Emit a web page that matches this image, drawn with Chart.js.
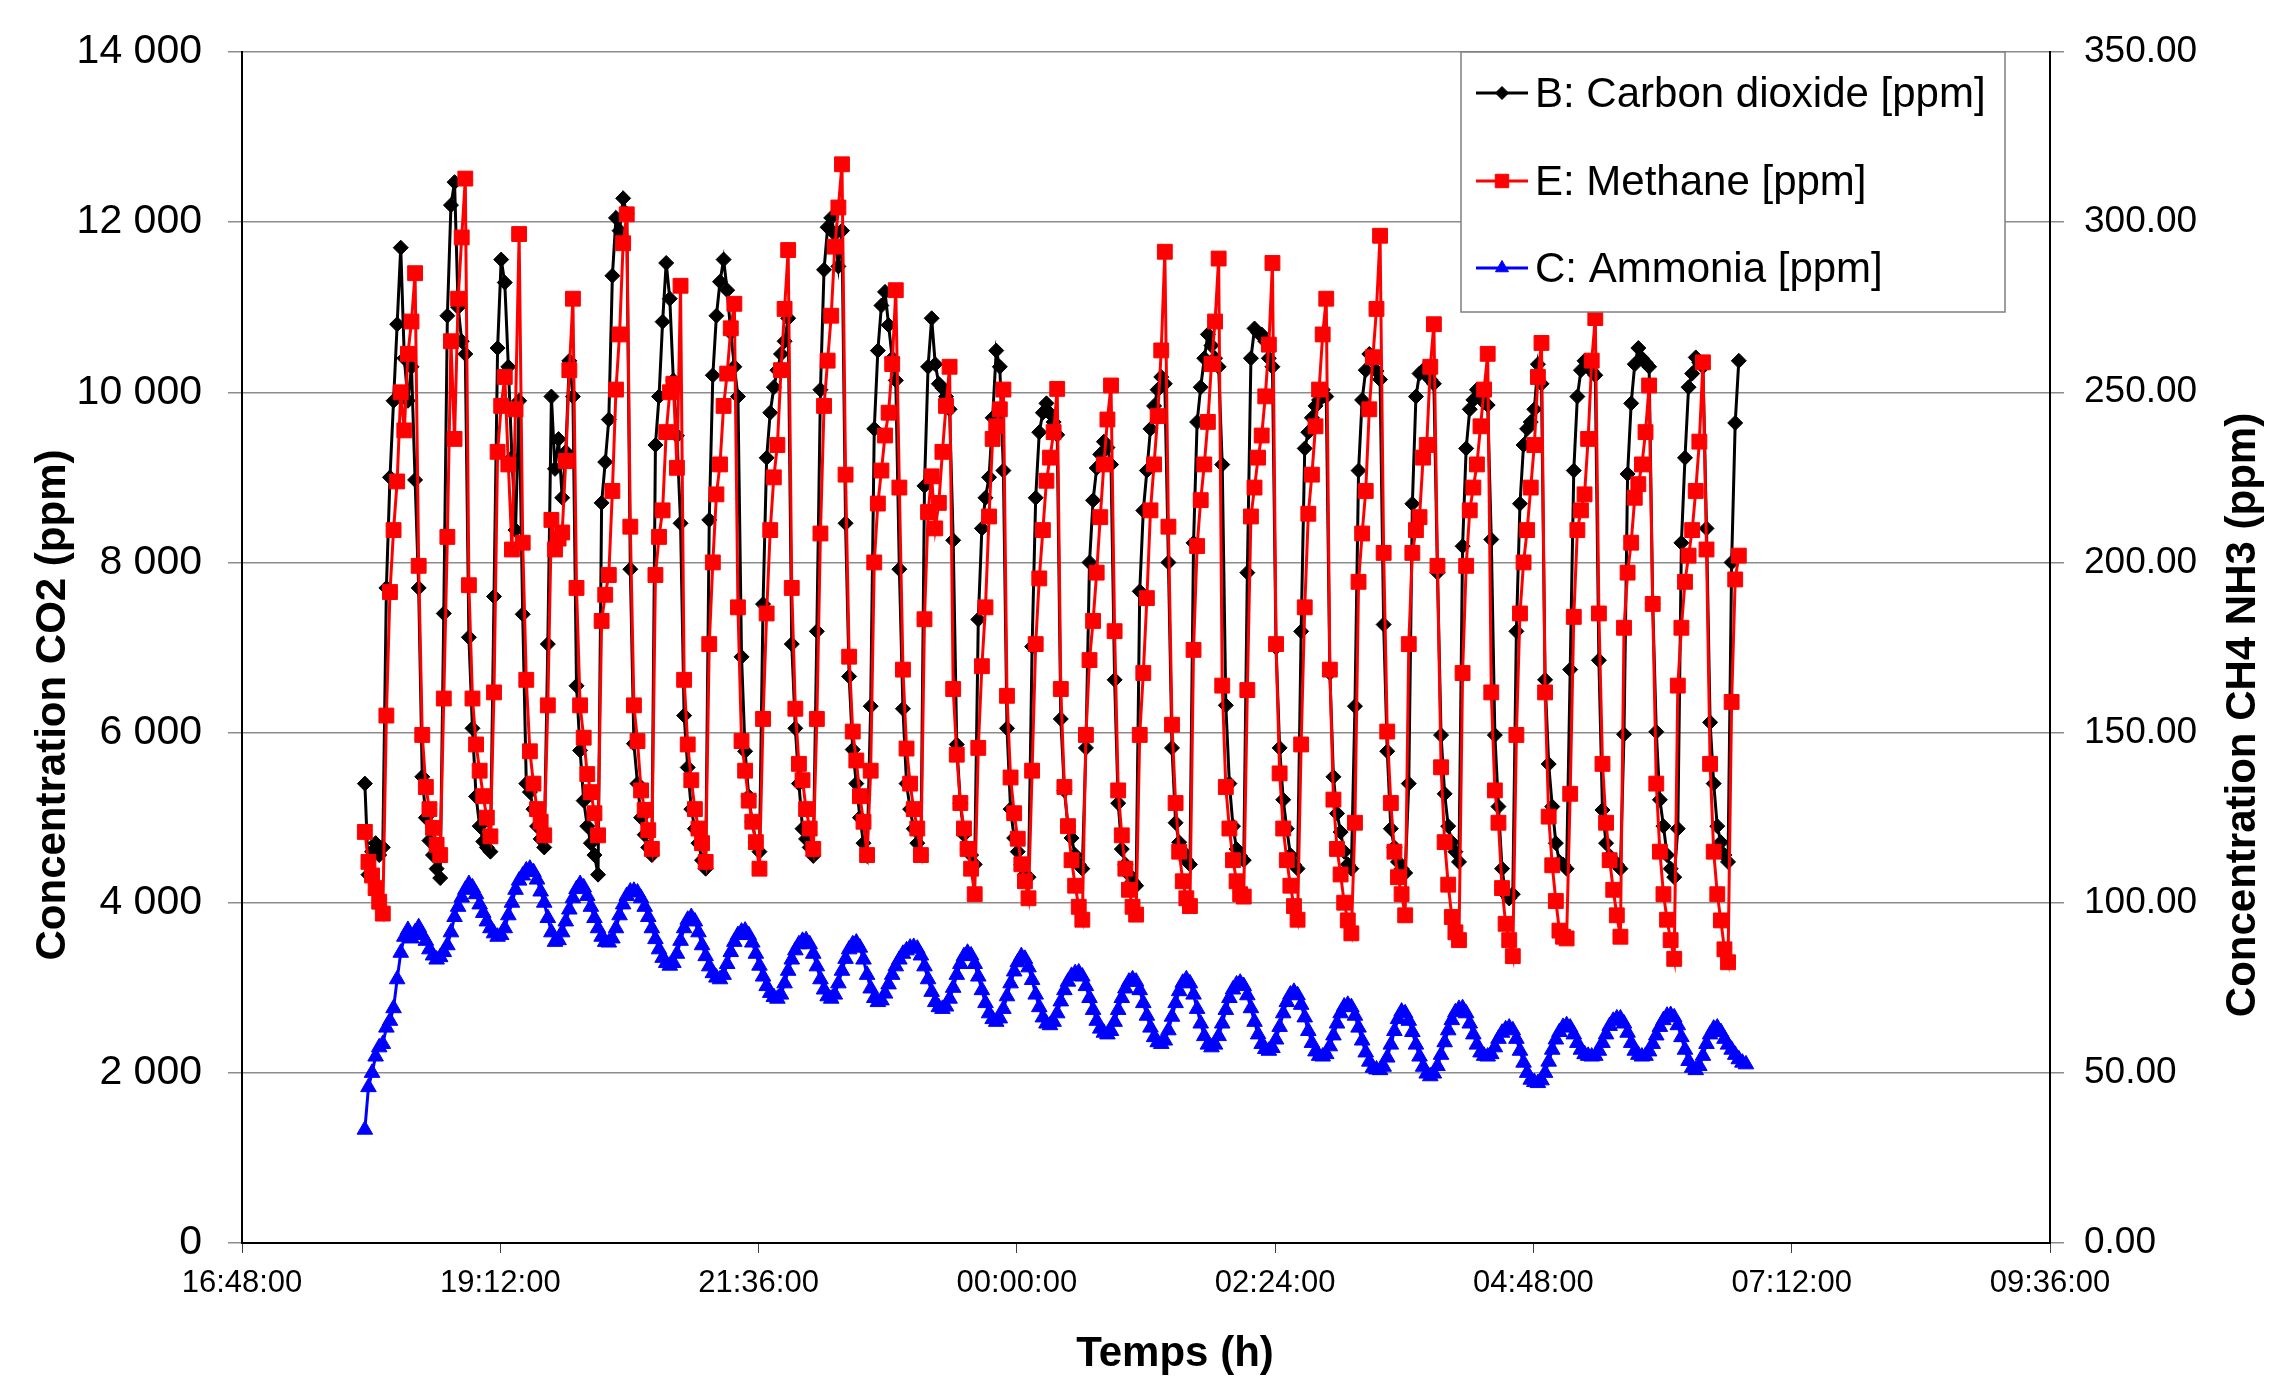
<!DOCTYPE html>
<html>
<head>
<meta charset="utf-8">
<script src="https://cdn.jsdelivr.net/npm/chart.js@4.4.1/dist/chart.umd.min.js"></script>
<style>
  body { margin: 0; background: #fff; }
  canvas { display: block; }
</style>
</head>
<body>
<canvas id="chart" width="2269" height="1377"></canvas>
<script>
// samples every 2 min, first one at 17:56:30 (minutes from midnight of day 1)
const firstSample = 1076.5;
const sampleStep = 2;

const seriesLabels = ['B: Carbon dioxide [ppm]', 'E: Methane [ppm]', 'C: Ammonia [ppm]'];

const xTickLabels = ['16:48:00', '19:12:00', '21:36:00', '00:00:00', '02:24:00', '04:48:00', '07:12:00', '09:36:00'];
const leftTickLabels = ['0', '2 000', '4 000', '6 000', '8 000', '10 000', '12 000', '14 000'];
const rightTickLabels = ['0.00', '50.00', '100.00', '150.00', '200.00', '250.00', '300.00', '350.00'];

// CO2 (left axis, ppm) - one line per cycle, ends on the methane peak
const co2 = [
  5400, 4330, 4600, 4700, 4560, 4650, 7700, 9000, 9900, 10800, 11700, 10400, 9900, 10300, 8970,
  7700, 5480, 5000, 4730, 4560, 4400, 4290, 7400, 10900, 12200, 12470, 11000, 10600, 10450,
  7120, 6050, 5250, 4900, 4720, 4650, 4600, 7600, 10520, 11560, 11290, 10300, 9230, 8380, 9900,
  7390, 5400, 5300, 5100, 4900, 4750, 4650, 7040, 9950, 9100, 9450, 8760, 9300, 10370, 9950,
  6550, 5790, 5200, 4900, 4700, 4560, 4330, 8700, 9180, 9680, 11370, 12050, 11900, 12280, 12100,
  7920, 5870, 5400, 5000, 4800, 4650, 4560, 9380, 9950, 10830, 11520, 11100, 10140, 9490, 8460,
  6200, 5590, 5100, 4870, 4700, 4500, 4400, 8500, 10200, 10900, 11300, 11560, 11200, 10700, 10300,
  9950, 6890, 5780, 5250, 4950, 4710, 4600, 7510, 9230, 9760, 10060, 10260, 10450, 10600, 10870,
  7040, 6050, 5400, 4870, 4750, 4650, 4550, 7190, 10030, 11440, 11940, 12050, 11860, 11480, 11900,
  8460, 6660, 5800, 5400, 5000, 4700, 4550, 6310, 9570, 10490, 11020, 11180, 10790, 10400, 10140,
  7920, 6280, 5400, 5100, 4870, 4700, 4560, 8900, 10300, 10870, 10330, 10100, 10050, 9950, 9800,
  8260, 5860, 5170, 4800, 4630, 4560, 4450, 7330, 8400, 8760, 9000, 9700, 10490, 10300, 9080,
  6050, 5100, 4760, 4600, 4450, 4330, 4300, 7010, 8760, 9530, 9760, 9870, 9750, 9650, 9500,
  6160, 5320, 4900, 4760, 4560, 4450, 4400, 5820, 8000, 8730, 9110, 9270, 9420, 9350, 9150,
  6620, 5170, 4630, 4450, 4330, 4250, 4200, 7660, 8610, 9080, 9570, 9840, 10030, 10180, 10100,
  8000, 5820, 4940, 4710, 4600, 4500, 4450, 8230, 9650, 10060, 10400, 10680, 10550, 10400, 10300,
  9150, 6320, 5400, 4900, 4630, 4550, 4500, 7880, 10400, 10750, 10700, 10680, 10600, 10400, 10300,
  7000, 5820, 5210, 4870, 4560, 4450, 4400, 7190, 9340, 9530, 9700, 9840, 9910, 10030, 9950,
  6700, 5480, 5050, 4830, 4600, 4450, 4400, 6310, 9080, 9910, 10260, 10450, 10370, 10250, 10150,
  7270, 5780, 4870, 4650, 4480, 4400, 4350, 5400, 8690, 9950, 10220, 10260, 10200, 10150, 10100,
  7880, 5970, 5280, 4900, 4710, 4600, 4480, 8190, 9340, 9800, 9910, 10030, 9950, 9880, 9850,
  8270, 5970, 5130, 4400, 4100, 4050, 4100, 7190, 8690, 9380, 9570, 9650, 9800, 10330, 10100,
  6620, 5630, 5130, 4700, 4480, 4450, 4400, 6740, 9080, 9950, 10260, 10370, 10300, 10250, 10200,
  6850, 5090, 4700, 4550, 4500, 4450, 4400, 5980, 9040, 9870, 10330, 10520, 10400, 10350, 10300,
  7510, 6010, 5210, 4900, 4560, 4400, 4300, 4870, 8230, 9230, 10060, 10220, 10410, 10350, 10300,
  8400, 6120, 5400, 4900, 4710, 4560, 4480, 8000, 9640, 10370
];

// CH4 (right axis, ppm)
const ch4 = [
  120.8, 112.0, 108.0, 104.3, 100.3, 96.8, 155.0, 191.3, 209.5, 223.8, 250.0, 238.8, 261.3, 270.8, 285.0,
  199.0, 149.3, 134.0, 127.5, 122.0, 117.0, 114.0, 160.0, 207.5, 265.0, 236.3, 277.5, 295.5, 312.8,
  193.3, 160.0, 146.5, 138.8, 131.3, 125.0, 119.5, 161.8, 232.5, 246.0, 254.5, 228.8, 203.8, 245.0, 296.5,
  205.8, 165.5, 144.5, 135.0, 127.5, 123.8, 119.8, 158.0, 212.5, 203.8, 207.0, 208.8, 229.8, 256.5, 277.5,
  192.5, 158.0, 148.5, 137.8, 132.5, 126.3, 119.8, 182.8, 190.5, 196.3, 221.0, 250.8, 267.0, 293.8, 302.3,
  210.5, 158.0, 147.5, 133.0, 127.3, 121.3, 115.8, 196.3, 207.5, 215.3, 238.3, 250.0, 252.5, 227.8, 281.3,
  165.5, 146.5, 136.0, 127.5, 121.8, 117.5, 112.0, 176.0, 200.0, 220.0, 228.8, 246.0, 255.5, 268.8, 276.0,
  186.8, 147.5, 138.8, 130.0, 123.8, 117.8, 110.0, 154.0, 185.0, 209.5, 225.0, 234.5, 256.5, 274.5, 291.8,
  192.5, 157.0, 140.8, 136.0, 127.5, 121.8, 115.8, 154.0, 208.5, 246.0, 259.3, 272.5, 292.8, 304.3, 317.0,
  225.8, 172.3, 150.3, 141.8, 131.3, 123.8, 114.0, 138.8, 200.0, 217.3, 227.0, 237.3, 244.0, 258.3, 280.0,
  222.0, 168.5, 145.3, 135.0, 127.5, 121.8, 114.0, 183.3, 214.8, 225.3, 210.0, 217.5, 232.5, 246.0, 257.5,
  162.8, 143.5, 129.3, 121.8, 115.8, 110.0, 102.5, 145.5, 169.5, 186.8, 213.5, 236.3, 240.0, 245.0, 250.8,
  160.8, 136.8, 126.3, 118.8, 111.3, 106.3, 101.3, 138.8, 176.0, 195.3, 209.5, 224.0, 230.8, 238.3, 251.0,
  162.8, 134.0, 122.5, 112.5, 105.0, 98.8, 95.0, 149.3, 171.3, 182.8, 197.0, 213.3, 228.8, 242.0, 252.0,
  179.8, 133.0, 119.8, 110.0, 103.8, 98.8, 96.5, 149.3, 167.5, 189.5, 215.3, 228.8, 243.0, 262.3, 291.3,
  210.5, 152.3, 129.3, 115.0, 106.3, 101.3, 99.0, 174.3, 204.8, 218.3, 228.8, 241.3, 258.3, 270.8, 289.3,
  163.8, 134.0, 121.8, 112.5, 106.3, 102.5, 101.8, 162.5, 213.5, 222.0, 230.8, 237.3, 248.8, 264.0, 288.0,
  176.0, 138.0, 121.8, 112.5, 105.0, 99.0, 95.0, 146.5, 186.8, 214.3, 225.8, 240.0, 250.8, 267.0, 277.5,
  168.5, 130.3, 115.8, 108.3, 100.0, 94.8, 91.0, 123.5, 194.3, 208.5, 221.0, 245.0, 260.3, 274.5, 296.0,
  202.8, 150.3, 129.3, 115.0, 107.5, 102.5, 96.3, 176.0, 202.8, 209.5, 213.3, 230.8, 234.5, 257.5, 270.0,
  199.0, 139.8, 117.8, 105.3, 95.8, 91.3, 89.0, 167.5, 199.0, 215.3, 222.0, 228.8, 240.0, 250.8, 261.3,
  161.8, 133.0, 123.5, 104.3, 93.8, 89.0, 84.3, 149.3, 185.0, 200.0, 209.5, 222.0, 234.5, 254.5, 264.5,
  161.8, 125.3, 111.0, 100.5, 91.8, 90.0, 89.5, 132.0, 184.0, 209.5, 215.3, 220.0, 236.3, 259.3, 271.8,
  185.0, 140.8, 123.5, 112.5, 103.8, 96.3, 90.0, 180.8, 197.0, 205.8, 219.0, 223.0, 228.8, 238.3, 252.0,
  187.8, 135.0, 115.0, 102.5, 95.0, 89.0, 83.5, 163.8, 180.8, 194.3, 202.0, 209.5, 221.0, 235.5, 258.8,
  203.8, 140.8, 115.0, 102.5, 94.8, 86.3, 82.5, 159.0, 195.0, 202.0
];

// NH3 (right axis, ppm)
const nh3 = [
  33.3, 45.8, 50.0, 54.8, 57.5, 58.5, 63.3, 65.3, 69.0, 77.5,
  85.3, 90.0, 92.0, 89.5, 91.3, 92.8, 90.5, 88.8, 86.3, 84.5,
  83.3, 84.0, 85.5, 87.5, 91.3, 95.8, 98.8, 101.5, 103.8, 105.5,
  104.5, 102.5, 99.5, 97.0, 94.5, 92.5, 91.0, 90.0, 90.5, 92.5,
  96.3, 100.0, 103.8, 106.5, 108.0, 109.5, 110.0, 109.0, 106.8, 103.3,
  100.0, 95.5, 91.3, 88.5, 89.0, 91.3, 94.5, 98.0, 101.3, 104.0,
  105.5, 104.5, 102.0, 98.8, 95.5, 92.5, 90.0, 88.5, 88.3, 89.5,
  92.5, 96.3, 99.5, 102.0, 103.3, 103.5, 103.0, 101.3, 98.8, 95.8,
  92.5, 89.3, 86.3, 83.8, 82.3, 81.5, 82.3, 85.0, 88.8, 92.5,
  95.0, 95.8, 94.5, 91.3, 87.5, 84.3, 81.3, 79.3, 78.0, 77.5,
  78.8, 82.0, 85.5, 88.5, 90.5, 91.5, 91.8, 90.5, 88.3, 85.0,
  81.5, 78.3, 75.5, 73.5, 72.3, 71.8, 73.0, 76.3, 80.0, 83.3,
  86.0, 87.8, 88.8, 89.0, 87.8, 85.0, 81.3, 77.5, 74.5, 72.5,
  71.8, 73.0, 76.3, 80.0, 83.5, 86.3, 87.8, 88.3, 86.8, 83.3,
  78.8, 74.8, 72.0, 70.8, 71.3, 73.3, 76.0, 78.8, 81.3, 83.3,
  85.0, 86.0, 86.8, 87.0, 86.5, 84.5, 81.3, 77.5, 73.8, 70.8,
  69.3, 68.8, 69.5, 71.8, 75.0, 78.8, 82.0, 84.3, 85.3, 84.5,
  82.0, 78.3, 74.3, 70.5, 67.5, 65.8, 65.0, 66.0, 68.8, 72.5,
  76.3, 79.8, 82.5, 84.3, 83.5, 81.0, 77.3, 73.0, 69.3, 66.3,
  64.5, 64.0, 65.0, 67.5, 71.0, 74.3, 76.8, 78.5, 79.3, 79.5,
  78.3, 75.5, 72.0, 68.5, 65.3, 63.0, 61.8, 61.3, 62.3, 65.0,
  68.5, 72.0, 74.8, 76.8, 77.5, 76.8, 74.3, 70.5, 66.8, 63.3,
  60.5, 59.0, 58.5, 59.5, 62.5, 66.5, 70.5, 74.0, 76.5, 77.5,
  76.3, 73.0, 68.8, 64.5, 60.8, 58.3, 57.5, 58.3, 60.8, 64.5,
  68.5, 72.0, 74.5, 76.0, 76.5, 75.5, 72.8, 69.0, 65.0, 61.3,
  58.5, 57.0, 56.5, 57.3, 59.8, 63.5, 67.5, 70.8, 73.0, 73.8,
  72.8, 70.0, 66.3, 62.3, 58.8, 56.3, 55.0, 54.8, 55.5, 57.8,
  61.0, 64.5, 67.5, 69.5, 70.0, 69.3, 66.8, 63.3, 59.5, 56.0,
  53.3, 51.5, 51.0, 50.8, 51.8, 54.5, 58.3, 62.3, 65.8, 68.0,
  67.5, 65.3, 62.0, 58.3, 54.8, 51.8, 49.8, 49.0, 49.8, 52.0,
  55.3, 59.0, 62.5, 65.5, 67.8, 68.8, 69.0, 67.5, 64.5, 61.3,
  58.3, 56.0, 55.0, 54.8, 55.5, 57.5, 60.0, 61.8, 62.8, 63.3,
  62.5, 60.0, 56.5, 53.0, 50.0, 48.0, 47.3, 47.0, 47.8, 50.0,
  53.3, 56.8, 59.8, 62.0, 63.5, 64.0, 63.3, 61.3, 58.8, 56.8,
  55.5, 55.0, 54.8, 55.0, 56.5, 58.8, 61.3, 63.8, 65.3, 66.0,
  66.0, 64.5, 61.8, 58.8, 56.5, 55.3, 54.8, 55.0, 56.3, 58.5,
  61.0, 63.5, 65.5, 66.8, 67.0, 66.3, 64.0, 60.5, 56.8, 53.5,
  51.5, 50.8, 52.0, 55.0, 58.5, 61.3, 63.0, 63.3, 62.0, 60.0,
  58.3, 56.8, 55.3, 54.0, 53.0, 52.5
];

const FONT = '"Liberation Sans", Arial, sans-serif';

function toPoints(values) {
  return values.map((v, i) => ({ x: firstSample + i * sampleStep, y: v }));
}

// axis titles and the boxed legend, placed like the original sheet
const overlay = {
  id: 'overlay',
  afterDraw(chart) {
    const c = chart.ctx;
    c.save();
    c.fillStyle = '#000';
    c.textAlign = 'center';
    c.textBaseline = 'middle';
    c.font = 'bold 42px ' + FONT;
    c.fillText('Temps (h)', 1175, 1354);

    c.save();
    c.translate(53, 705);
    c.rotate(-Math.PI / 2);
    c.fillText('Concentration CO2 (ppm)', 0, 0);
    c.restore();

    c.save();
    c.translate(2243, 715);
    c.rotate(-Math.PI / 2);
    c.fillText('Concentration CH4 NH3 (ppm)', 0, 0);
    c.restore();

    // legend box
    c.fillStyle = '#fff';
    c.fillRect(1461, 52, 544, 260);
    c.strokeStyle = '#7f7f7f';
    c.lineWidth = 1.5;
    c.strokeRect(1461, 52, 544, 260);

    const rowsY = [93, 181, 268];
    const legendRadius = [6.5, 9.5, 7.5];
    chart.data.datasets.forEach((ds, i) => {
      const y = rowsY[i];
      c.strokeStyle = ds.borderColor;
      c.lineWidth = 3;
      c.beginPath();
      c.moveTo(1476, y);
      c.lineTo(1528, y);
      c.stroke();
      c.fillStyle = ds.borderColor;
      c.lineWidth = 1;
      Chart.helpers.drawPoint(c, { pointStyle: ds.pointStyle, radius: legendRadius[i], rotation: 0, borderWidth: 1 }, 1502, y);
      c.fillStyle = '#000';
      c.textAlign = 'left';
      c.font = '42px ' + FONT;
      c.fillText(ds.label, 1535, y + 2);
    });
    c.restore();
  }
};

const ctx = document.getElementById('chart').getContext('2d');
const chart = new Chart(ctx, {
  type: 'line',
  data: {
    datasets: [
      {
        label: seriesLabels[0],
        data: toPoints(co2),
        yAxisID: 'y',
        borderColor: '#000000',
        backgroundColor: '#000000',
        borderWidth: 3,
        pointStyle: 'rectRot',
        pointRadius: 7.5,
        pointBorderWidth: 1,
        order: 3,
      },
      {
        label: seriesLabels[1],
        data: toPoints(ch4),
        yAxisID: 'y1',
        borderColor: '#ff0000',
        backgroundColor: '#ff0000',
        borderWidth: 3,
        pointStyle: 'rect',
        pointRadius: 10.5,
        pointBorderWidth: 1,
        order: 2,
      },
      {
        label: seriesLabels[2],
        data: toPoints(nh3),
        yAxisID: 'y1',
        borderColor: '#0000ff',
        backgroundColor: '#0000ff',
        borderWidth: 3,
        pointStyle: 'triangle',
        pointRadius: 9,
        pointBorderWidth: 1,
        order: 1,
      },
    ],
  },
  options: {
    responsive: false,
    animation: false,
    plugins: {
      legend: { display: false },
      tooltip: { enabled: false },
    },
    layout: {
      padding: { top: 52, left: 0, right: 0, bottom: 0 },
    },
    scales: {
      x: {
        type: 'linear',
        min: 1008,
        max: 2016,
        afterFit: (s) => { s.height = 134; },
        ticks: {
          stepSize: 144,
          autoSkip: false,
          maxRotation: 0,
          padding: 12,
          color: '#000',
          font: { family: FONT, size: 31 },
          callback: (v, i) => xTickLabels[i],
        },
        grid: { drawOnChartArea: false, tickLength: 10, tickColor: '#404040' },
        border: { color: '#000', width: 2 },
      },
      y: {
        position: 'left',
        min: 0,
        max: 14000,
        afterFit: (s) => { s.width = 242; },
        ticks: {
          stepSize: 2000,
          padding: 26,
          color: '#000',
          font: { family: FONT, size: 41 },
          callback: (v, i) => leftTickLabels[i],
        },
        grid: { color: '#8c8c8c', lineWidth: 1.5, tickLength: 14, tickColor: '#8c8c8c' },
        border: { color: '#000', width: 2 },
      },
      y1: {
        position: 'right',
        min: 0,
        max: 350,
        afterFit: (s) => { s.width = 219; },
        ticks: {
          stepSize: 50,
          padding: 20,
          color: '#000',
          font: { family: FONT, size: 37 },
          callback: (v, i) => rightTickLabels[i],
        },
        grid: { drawOnChartArea: false, tickLength: 14, tickColor: '#8c8c8c', lineWidth: 1.5 },
        border: { color: '#000', width: 2 },
      },
    },
  },
  plugins: [overlay],
});
</script>
</body>
</html>
